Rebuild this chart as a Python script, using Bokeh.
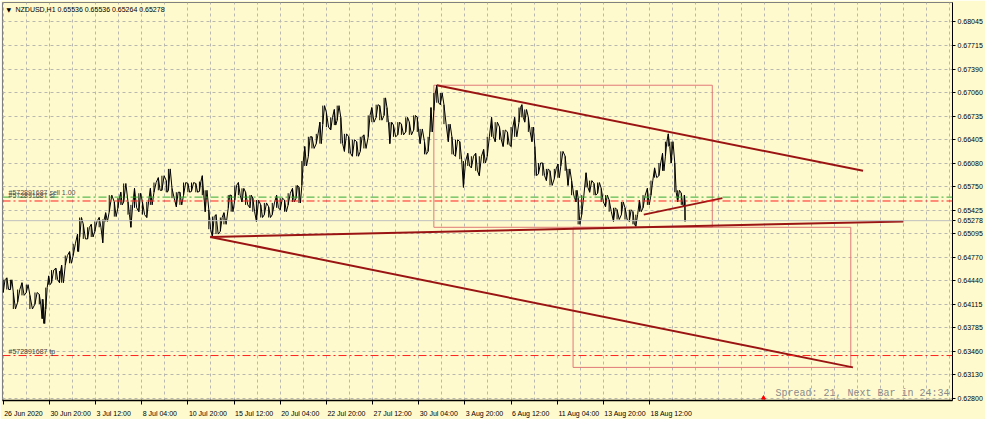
from bokeh.plotting import figure
from bokeh.models import FixedTicker, Label, Range1d, NumeralTickFormatter, Span
from bokeh.embed import file_html
from bokeh.resources import INLINE

symbol_title = "NZDUSD,H1  0.65536 0.65536 0.65264 0.65278"

# bar index (H1 bars from 26 Jun 2020), per-group high / low
bars = [0,5,10,14,20,26,32,37,44,50,
        54,56,59,63,67,73,78,81,86,92,
        97,103,106,111,117,122,127,133,138,142,
        147,154,159,163,167,173,177,182,188,193,
        199,204,209,215,220,226,229,234,240,245,
        250,256,261,267,272,276,280,285,290,295,
        301,306,312,316,321,326,331,336,342,346,
        351,357,362,368,373,379,384,390,395,401,
        406,410,414,418,423,428,434,439,443,448,
        454,459,463,468,473,479,484,490,495,500,
        506,511,517,522,528,532,536,541,547,552,
        558,563,569,574,578,584,589,593,597,601,
        606,611,617,622,627,633,638,644,649,655,
        660,666,671,677,682,688,693,699,704,709,
        715,719,723,728,733,737,742,748,753,758,
        764,769,773,779,783,788,794,797,802,808,
        813,819,824,829,835,840,846,851,857,862,
        868,873,877,882,887,893,898,903,909,914,
        918,922,926,931,935,940,944,945]

highs = [0.64455,0.64482,0.64455,0.64278,0.64319,0.64414,0.64387,0.64238,0.64278,0.64251,
         0.64184,0.64075,0.64346,0.64509,0.64590,0.64617,0.64576,0.64658,0.64793,0.64847,
         0.64956,0.65091,0.65322,0.65227,0.65186,0.65227,0.65268,0.65322,0.65295,0.65389,
         0.65633,0.65539,0.65592,0.65674,0.65796,0.65539,0.65498,0.65728,0.65660,0.65539,
         0.65539,0.65728,0.65809,0.65877,0.65904,0.65836,0.65999,0.65728,0.65674,0.65674,
         0.65809,0.65796,0.65809,0.65796,0.65823,0.65904,0.65701,0.65430,0.65335,0.65362,
         0.65322,0.65389,0.65633,0.65633,0.65769,0.65809,0.65728,0.65674,0.65633,0.65592,
         0.65565,0.65498,0.65525,0.65471,0.65525,0.65633,0.65592,0.65565,0.65660,0.65728,
         0.65769,0.65742,0.66108,0.66311,0.66446,0.66446,0.66487,0.66650,0.66880,0.66785,
         0.66717,0.66826,0.66880,0.66717,0.66487,0.66446,0.66405,0.66378,0.66446,0.66473,
         0.66744,0.66853,0.66893,0.66880,0.66988,0.66853,0.66650,0.66609,0.66650,0.66622,
         0.66717,0.66650,0.66744,0.66717,0.66555,0.66378,0.66446,0.66853,0.67056,0.67164,
         0.67056,0.66893,0.66622,0.66446,0.66405,0.66378,0.66108,0.66216,0.66175,0.66216,
         0.66175,0.66270,0.66446,0.66717,0.66650,0.66582,0.66541,0.66514,0.66582,0.66717,
         0.66853,0.66893,0.66826,0.66717,0.66582,0.66311,0.66081,0.66081,0.65999,0.65972,
         0.65999,0.66067,0.66243,0.66175,0.65999,0.65836,0.65701,0.65592,0.65633,0.65945,
         0.65836,0.65796,0.65809,0.65728,0.65633,0.65565,0.65457,0.65430,0.65539,0.65457,
         0.65430,0.65403,0.65362,0.65565,0.65633,0.65728,0.65836,0.66013,0.66081,0.66216,
         0.66378,0.66487,0.66378,0.66081,0.65701,0.65660,0.65633,0.65565]

lows = [0.64278,0.64319,0.64319,0.64048,0.64143,0.64238,0.64278,0.64048,0.64116,0.64116,
        0.63913,0.63845,0.64048,0.64387,0.64414,0.64455,0.64414,0.64414,0.64658,0.64685,
        0.64793,0.64847,0.65051,0.65024,0.65024,0.65051,0.65132,0.65186,0.64970,0.65268,
        0.65403,0.65335,0.65457,0.65498,0.65539,0.65362,0.65186,0.65457,0.65403,0.65362,
        0.65322,0.65498,0.65674,0.65701,0.65701,0.65674,0.65701,0.65592,0.65471,0.65498,
        0.65633,0.65674,0.65687,0.65674,0.65687,0.65633,0.65403,0.65159,0.65051,0.65091,
        0.65132,0.65227,0.65457,0.65403,0.65565,0.65633,0.65539,0.65498,0.65457,0.65403,
        0.65268,0.65322,0.65362,0.65322,0.65362,0.65457,0.65430,0.65403,0.65498,0.65539,
        0.65592,0.65525,0.65769,0.66040,0.66175,0.66284,0.66351,0.66351,0.66622,0.66582,
        0.66541,0.66609,0.66677,0.66351,0.66243,0.66216,0.66175,0.66175,0.66243,0.66284,
        0.66446,0.66650,0.66717,0.66677,0.66744,0.66650,0.66351,0.66446,0.66473,0.66473,
        0.66514,0.66473,0.66541,0.66514,0.66351,0.66202,0.66243,0.66514,0.66812,0.66920,
        0.66893,0.66622,0.66378,0.66202,0.66175,0.66134,0.65742,0.66040,0.66013,0.65972,
        0.65904,0.66081,0.66175,0.66446,0.66378,0.66405,0.66311,0.66338,0.66311,0.66446,
        0.66650,0.66717,0.66650,0.66514,0.66378,0.65904,0.65931,0.65904,0.65836,0.65769,
        0.65863,0.65877,0.66040,0.65972,0.65769,0.65633,0.65539,0.65227,0.65362,0.65742,
        0.65674,0.65633,0.65660,0.65539,0.65471,0.65403,0.65268,0.65295,0.65362,0.65295,
        0.65268,0.65227,0.65200,0.65403,0.65457,0.65498,0.65633,0.65877,0.65904,0.65972,
        0.66175,0.66311,0.66081,0.65674,0.65539,0.65498,0.65471,0.65268]

time_ticks = [0, 64, 128, 192, 256, 320, 384, 448, 512, 576, 640, 704, 768, 832, 896]
time_labels = ["26 Jun 2020", "30 Jun 20:00", "3 Jul 12:00", "8 Jul 04:00", "10 Jul 20:00",
               "15 Jul 12:00", "20 Jul 04:00", "22 Jul 20:00", "27 Jul 12:00", "30 Jul 04:00",
               "3 Aug 20:00", "6 Aug 12:00", "11 Aug 04:00", "13 Aug 20:00", "18 Aug 12:00"]
price_ticks = [0.68045, 0.67715, 0.67390, 0.67060, 0.66735, 0.66405, 0.66080, 0.65750, 0.65425,
               0.65095, 0.64770, 0.64440, 0.64115, 0.63785, 0.63460, 0.63130, 0.62800]

bid_price = 0.65278
order_open = 0.65606
order_sl = 0.65552
order_tp = 0.63400
order_label_open = "#572891687 sell 1.00"
order_label_sl = "#572891687 sl"
order_label_tp = "#572891687 tp"
status_text = "Spread: 21, Next Bar in 24:34"

trend_x0 = [601, 287, 287, 888]
trend_y0 = [0.67164, 0.65051, 0.65051, 0.65362]
trend_x1 = [1192, 1248, 1178, 997]
trend_y1 = [0.65972, 0.65268, 0.63235, 0.65592]

rect_left = [597, 790]
rect_right = [983, 1175]
rect_top = [0.67164, 0.65186]
rect_bottom = [0.65186, 0.63235]

marker_bar = [1054]
marker_price = [0.62810]

X0, X1 = -1, 1316
Y0, Y1 = 0.62774, 0.68316

BG = "#FFFACD"
FONT = "Liberation Sans"
FS = 7  # px
FRAME_W, FRAME_H = 950, 398

p = figure(frame_width=FRAME_W, frame_height=FRAME_H, output_backend="svg", toolbar_location=None,
           x_range=Range1d(X0, X1), y_range=Range1d(Y0, Y1), y_axis_location="right",
           min_border_left=2, min_border_top=2, min_border_right=0, min_border_bottom=0)
p.background_fill_color = BG
p.border_fill_color = BG
p.outline_line_color = "#808080"

# right price axis (the bid price is labelled too)
p.yaxis.ticker = FixedTicker(ticks=price_ticks + [bid_price])
p.yaxis.formatter = NumeralTickFormatter(format="0.00000")
p.yaxis.major_label_text_font = FONT
p.yaxis.major_label_text_font_size = f"{FS}px"
p.yaxis.major_label_text_color = "black"
p.yaxis.major_tick_in = 0
p.yaxis.major_tick_out = 3
p.yaxis.minor_tick_out = 0
p.yaxis.minor_tick_in = 0
p.yaxis.major_label_standoff = 2
p.yaxis.axis_line_color = "black"
p.yaxis.major_tick_line_color = "black"

# bottom time axis: tick marks at the bar, labels written to the right of the mark
char_w = {d: 0.556 for d in "0123456789"}
char_w.update({" ": 0.278, ":": 0.278, "J": 0.5, "u": 0.556, "n": 0.556, "l": 0.222,
               "A": 0.667, "g": 0.556})
bars_per_px = (X1 - X0) / FRAME_W
label_pos = []
for t, l in zip(time_ticks, time_labels):
    w = sum(char_w.get(c, 0.556) for c in l) * FS
    label_pos.append(t + (w / 2 + 1) * bars_per_px)
p.xaxis.ticker = FixedTicker(ticks=label_pos, minor_ticks=time_ticks)
p.xaxis.major_label_overrides = {pos: l for pos, l in zip(label_pos, time_labels)}
p.xaxis.major_label_text_font = FONT
p.xaxis.major_label_text_font_size = f"{FS}px"
p.xaxis.major_label_text_color = "black"
p.xaxis.major_label_standoff = 5
p.xaxis.major_tick_in = 0
p.xaxis.major_tick_out = 0
p.xaxis.minor_tick_in = 0
p.xaxis.minor_tick_out = 4
p.xaxis.minor_tick_line_color = "black"
p.xaxis.axis_line_color = "black"
p.xaxis.axis_line_width = 1.5

# grid
p.xgrid.ticker = FixedTicker(ticks=list(range(0, 1316, 32)))
p.ygrid.ticker = FixedTicker(ticks=price_ticks)
for g in (p.xgrid, p.ygrid):
    g.grid_line_color = "#b8b8ae"
    g.grid_line_dash = "3 3"
    g.grid_line_width = 1

# rectangles
p.quad(left=rect_left, right=rect_right, top=rect_top, bottom=rect_bottom,
       fill_alpha=0, line_color="#E07878", line_width=1)

# order / bid lines
p.add_layout(Span(location=bid_price, dimension="width", line_color="#BEBEBE", line_width=1))
p.add_layout(Span(location=order_open, dimension="width", line_color="#33AA33",
                  line_width=1, line_dash="8 3 2 3"))
p.add_layout(Span(location=order_sl, dimension="width", line_color="#FF2020",
                  line_width=1, line_dash="8 3 2 3"))
p.add_layout(Span(location=order_tp, dimension="width", line_color="#FF2020",
                  line_width=1, line_dash="8 3 2 3"))

# price path drawn as a jagged high/low zigzag
zx, zy = [], []
for i, b in enumerate(bars):
    d = (bars[i + 1] - b) if i + 1 < len(bars) else 1
    if i % 2 == 0:
        zx += [b, b + d * 0.5]
        zy += [lows[i], highs[i]]
    else:
        zx += [b, b + d * 0.5]
        zy += [highs[i], lows[i]]
p.segment(x0=bars, y0=lows, x1=bars, y1=highs, line_color="black", line_width=1)
p.line(zx, zy, line_color="black", line_width=1)

# trend lines
p.segment(x0=trend_x0, y0=trend_y0, x1=trend_x1, y1=trend_y1, line_color="#9B1414", line_width=2)

p.scatter(marker_bar, marker_price, marker="triangle", size=4, color="#FF0000")

# texts
p.add_layout(Label(x=X0, y=Y1, x_offset=4, y_offset=-3, text="\u25BC", text_font="DejaVu Sans",
                   text_font_size="6px", text_baseline="top", text_color="black"))
p.add_layout(Label(x=X0, y=Y1, x_offset=13, y_offset=-3, text=symbol_title, text_font=FONT,
                   text_font_size=f"{FS}px", text_baseline="top", text_color="black"))
p.add_layout(Label(x=X0, y=order_open, x_offset=6, y_offset=1, text=order_label_open,
                   text_font=FONT, text_font_size=f"{FS}px", text_baseline="bottom", text_color="#505050"))
p.add_layout(Label(x=X0, y=order_sl, x_offset=6, y_offset=2, text=order_label_sl,
                   text_font=FONT, text_font_size=f"{FS}px", text_baseline="bottom", text_color="#505050"))
p.add_layout(Label(x=X0, y=order_tp, x_offset=6, y_offset=1, text=order_label_tp,
                   text_font=FONT, text_font_size=f"{FS}px", text_baseline="bottom", text_color="#404040"))
p.add_layout(Label(x=X1, y=Y0, x_offset=-3, y_offset=2, text=status_text, text_font="Liberation Mono",
                   text_font_size="10px", text_align="right", text_baseline="bottom", text_color="#8a8a8a"))

open("out.html", "w").write(file_html(p, INLINE))
